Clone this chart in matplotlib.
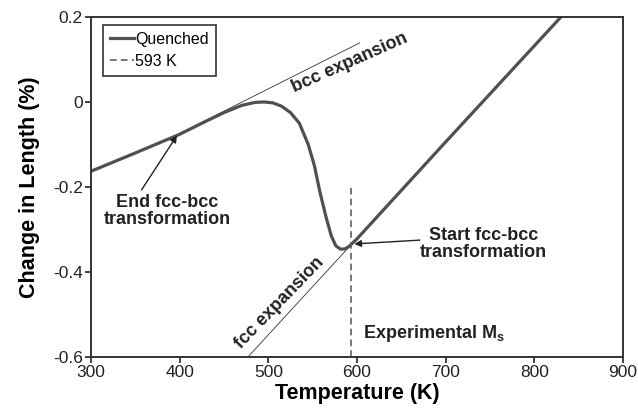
import matplotlib.pyplot as plt

plt.rcParams['font.family'] = ['Liberation Sans', 'DejaVu Sans']
plt.rcParams['axes.unicode_minus'] = False

# quenched dilatometry curve (temperature in K, change in length in %)
temp = [300, 350, 400, 430, 450, 470, 485, 495, 505, 515, 525, 535, 545,
        552, 558, 565, 571, 576, 581, 586, 591, 600, 700, 830]
dl = [-0.163, -0.12, -0.076, -0.045, -0.025, -0.008, -0.001, 0.0, -0.002,
      -0.01, -0.025, -0.05, -0.1, -0.15, -0.21, -0.27, -0.315, -0.338,
      -0.346, -0.346, -0.34, -0.322, -0.094, 0.2]

# linear expansion fits
bcc_t = [400, 603]
bcc_dl = [-0.074, 0.139]
fcc_t = [477, 596]
fcc_dl = [-0.6, -0.33]

ms_temp = 593
ms_range = [-0.6, -0.2]

fig = plt.figure(figsize=(6.38, 4.15), dpi=100)
ax = fig.add_axes([0.1426, 0.1398, 0.8339, 0.8193])

ax.plot(bcc_t, bcc_dl, color='#333333', lw=0.6)
ax.plot(fcc_t, fcc_dl, color='#333333', lw=0.6)
ax.plot(temp, dl, color='#505050', lw=2.3, label='Quenched')
ax.plot([ms_temp, ms_temp], ms_range, color='#606060', lw=1.2, ls=(0, (4, 2.5)),
        label='593 K')

ax.set_xlim(300, 900)
ax.set_ylim(-0.6, 0.2)
ax.set_xticks([300, 400, 500, 600, 700, 800, 900])
ax.set_yticks([-0.6, -0.4, -0.2, 0, 0.2])
ax.set_yticklabels(['-0.6', '-0.4', '-0.2', '0', '0.2'])
ax.tick_params(labelsize=12.5, colors='#222222', length=4, width=1.2, pad=2)
for s in ax.spines.values():
    s.set_linewidth(1.4)
    s.set_color('#333333')

ax.set_xlabel('Temperature (K)', fontsize=15.5, fontweight='bold', labelpad=2)
ax.set_ylabel('Change in Length (%)', fontsize=15.5, fontweight='bold', labelpad=9)

leg = ax.legend(loc='upper left', bbox_to_anchor=(0.0226, 0.9765), borderaxespad=0,
                fontsize=11.5, handlelength=1.5, handletextpad=0.1,
                fancybox=False, framealpha=1, borderpad=0.42, labelspacing=0.45)
leg.get_frame().set_edgecolor('#333333')
leg.get_frame().set_linewidth(1.2)

bold = dict(fontsize=13, fontweight='bold', color='#222222')
ax.text(592, 0.092, 'bcc expansion', rotation=24, ha='center', va='center', **bold)
ax.text(513, -0.473, 'fcc expansion', rotation=46, ha='center', va='center', **bold)
ax.text(607, -0.544, 'Experimental M$_\\mathregular{s}$', ha='left', va='center', **bold)

arrow = dict(arrowstyle='-|>', color='#222222', lw=1, mutation_scale=10,
             shrinkA=0, shrinkB=0)
ax.text(386, -0.257, 'End fcc-bcc\ntransformation', ha='center', va='center',
        linespacing=1.0, **bold)
ax.annotate('', xy=(397, -0.079), xytext=(357, -0.207), arrowprops=arrow)
ax.text(743, -0.334, 'Start fcc-bcc\ntransformation', ha='center', va='center',
        linespacing=1.0, **bold)
ax.annotate('', xy=(597, -0.334), xytext=(671, -0.325), arrowprops=arrow)

fig.savefig('out.png', dpi=100)
